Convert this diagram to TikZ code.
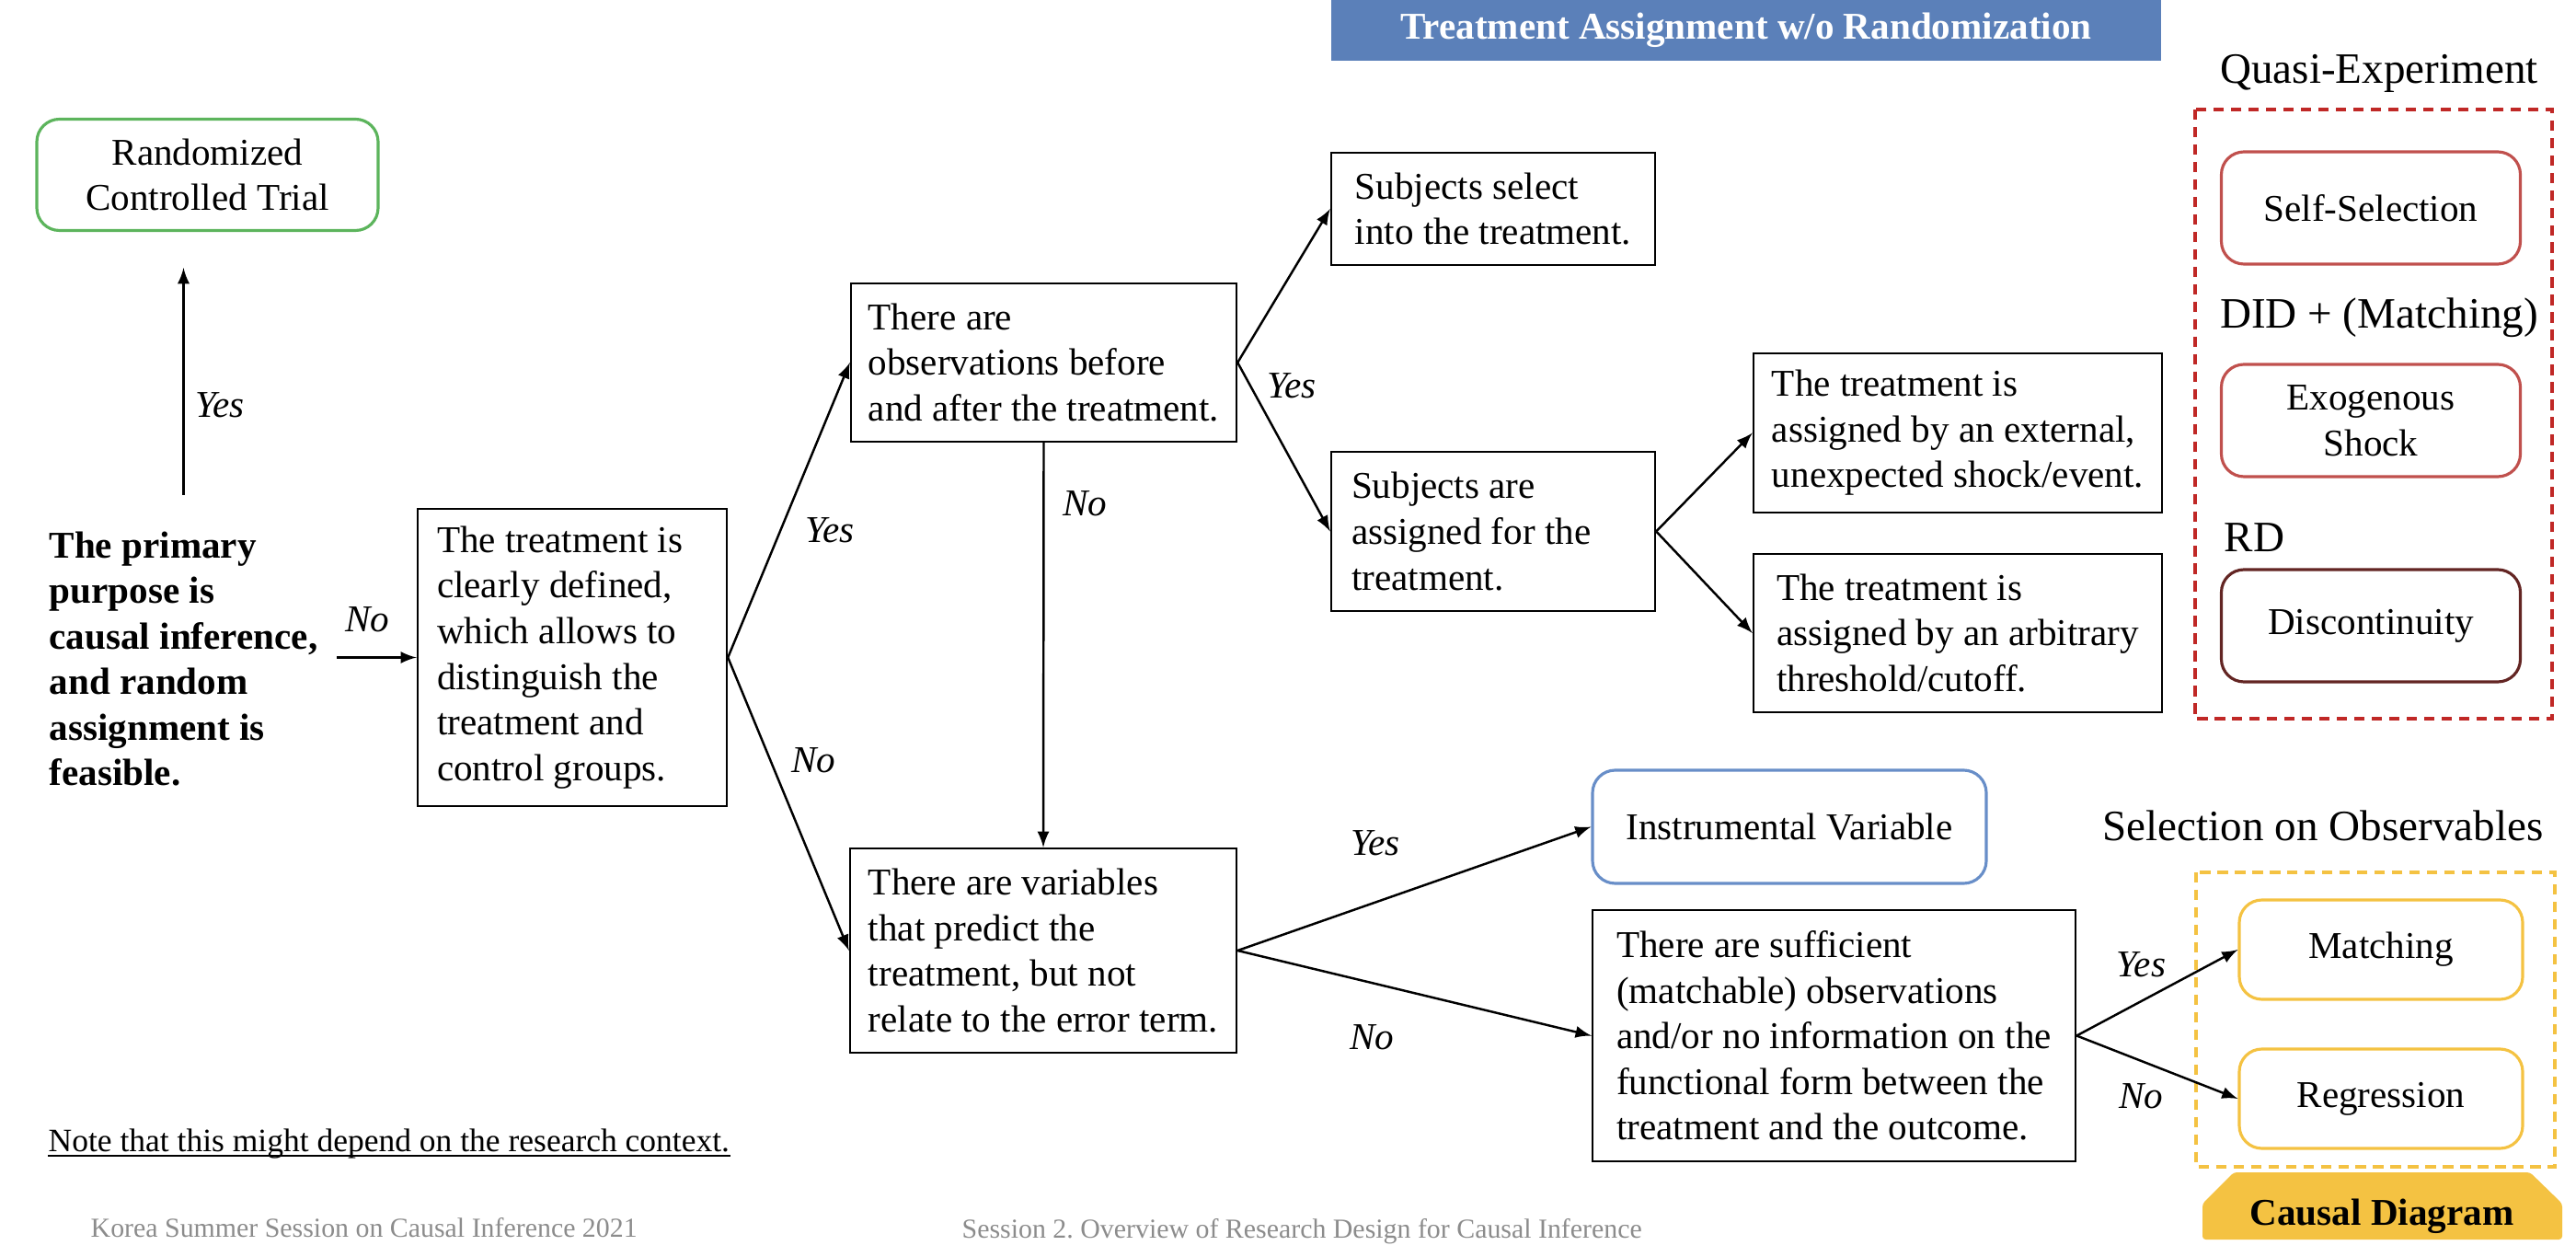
\documentclass[tikz,border=0pt]{standalone}
\usepackage{fontspec}
\setmainfont{Liberation Serif}
\usepackage{tikz}
\usetikzlibrary{arrows}
\newcommand{\bodysize}{\fontsize{11.7}{14.1}\selectfont}
\newcommand{\headsize}{\fontsize{13.4}{16}\selectfont}
\definecolor{hdblue}{RGB}{91,128,185}
\definecolor{ivblue}{RGB}{104,142,200}
\definecolor{rctgreen}{RGB}{92,180,92}
\definecolor{qered}{RGB}{192,40,38}
\definecolor{qebox}{RGB}{192,80,77}
\definecolor{rdbrown}{RGB}{99,37,35}
\definecolor{cdgold}{RGB}{244,194,66}
\definecolor{footgray}{RGB}{140,140,140}
\tikzstyle{box}=[draw, line width=0.7pt, align=flush left, inner sep=0pt]
\tikzstyle{rbox}=[draw, line width=0.9pt, rounded corners=7pt, align=center, inner sep=0pt]
\tikzstyle{edge}=[line width=0.7pt, -latex]
\tikzstyle{edgeLabel}=[font=\bodysize\itshape]
\tikzstyle{heading}=[font=\headsize, inner sep=0pt]
\tikzstyle{dashframe}=[line width=0.9pt, dash pattern=on 3.2pt off 2.2pt]
\tikzstyle{foot}=[font=\fontsize{8.5}{10}\selectfont, text=footgray, anchor=base west, inner sep=0pt]

\begin{document}
\begin{tikzpicture}[font=\bodysize]
	\useasboundingbox (0,0) rectangle (28,-13.66);
	\draw (18.98,-0.33) node[fill=hdblue, text=white, font=\bodysize\bfseries, minimum width=9.02cm, minimum height=0.66cm, inner sep=0pt] (title) {Treatment Assignment w/o Randomization};
	\draw (2.255,-1.9) node[rbox, draw=rctgreen, minimum width=3.71cm, minimum height=1.21cm] (rct) {Randomized\\Controlled Trial};
	\draw (0.53,-7.16) node[anchor=west, align=left, inner sep=0pt, font=\bodysize\bfseries] (purpose) {The primary\\purpose is\\causal inference,\\and random\\assignment is\\feasible.};
	\draw (6.22,-7.145) node[box, inner xsep=0.21cm, text width=2.94cm, minimum height=3.23cm] (defined) {The treatment is\\clearly defined,\\which allows to\\distinguish the\\treatment and\\control groups.};
	\draw (11.345,-3.94) node[box, minimum width=4.19cm, minimum height=1.72cm] (obs) {There are\\observations before\\and after the treatment.};
	\draw (11.34,-10.33) node[box, minimum width=4.2cm, minimum height=2.22cm] (var) {There are variables\\that predict the\\treatment, but not\\relate to the error term.};
	\draw (16.23,-2.27) node[box, minimum width=3.52cm, minimum height=1.22cm] (select) {Subjects select\\into the treatment.};
	\draw (16.23,-5.775) node[box, inner xsep=0.22cm, text width=3.08cm, minimum height=1.73cm] (assigned) {Subjects are\\assigned for the\\treatment.};
	\draw (21.28,-4.705) node[box, minimum width=4.44cm, minimum height=1.73cm] (shock) {The treatment is\\assigned by an external,\\unexpected shock/event.};
	\draw (21.28,-6.88) node[box, minimum width=4.44cm, minimum height=1.72cm] (cutoff) {The treatment is\\assigned by an arbitrary\\threshold/cutoff.};
	\draw (19.45,-8.985) node[rbox, draw=ivblue, minimum width=4.28cm, minimum height=1.23cm] (iv) {Instrumental Variable};
	\draw (19.935,-11.255) node[box, minimum width=5.25cm, minimum height=2.73cm] (suff) {There are sufficient\\(matchable) observations\\and/or no information on the\\functional form between the\\treatment and the outcome.};
	\draw (25.86,-0.80) node[heading] (quasi) {Quasi-Experiment};
	\draw[dashframe, draw=qered] (23.86,-1.19) rectangle (27.74,-7.81);
	\draw (25.77,-2.26) node[rbox, draw=qebox, minimum width=3.25cm, minimum height=1.22cm] (selfsel) {Self-Selection};
	\draw (25.86,-3.45) node[heading] (did) {DID + (Matching)};
	\draw (25.77,-4.57) node[rbox, draw=qebox, minimum width=3.25cm, minimum height=1.22cm] (exo) {Exogenous\\Shock};
	\draw (24.17,-5.84) node[heading, anchor=west] (rd) {RD};
	\draw (25.77,-6.80) node[rbox, draw=rdbrown, minimum width=3.25cm, minimum height=1.22cm] (disc) {Discontinuity};
	\draw (25.25,-8.97) node[heading] (soo) {Selection on Observables};
	\draw[dashframe, draw=cdgold] (23.87,-9.48) rectangle (27.77,-12.68);
	\draw (25.88,-10.32) node[rbox, draw=cdgold, minimum width=3.08cm, minimum height=1.08cm] (matching) {Matching};
	\draw (25.88,-11.94) node[rbox, draw=cdgold, minimum width=3.08cm, minimum height=1.08cm] (regression) {Regression};
	\fill[cdgold, rounded corners=1pt] (23.94,-13.47) -- (23.94,-13.08) -- (24.28,-12.74) -- (27.50,-12.74) -- (27.85,-13.08) -- (27.85,-13.47) -- cycle;
	\draw (25.89,-13.22) node[font=\bodysize\bfseries] (causal) {Causal Diagram};
	\draw (0.52,-12.51) node[anchor=base west, inner sep=0pt, font=\fontsize{10.1}{12}\selectfont] (note) {Note that this might depend on the research context.};
	\draw[line width=0.6pt] ([yshift=-0.5mm]note.base west) -- ([yshift=-0.5mm]note.base east);
	\draw (0.98,-13.44) node[foot] (foot1) {Korea Summer Session on Causal Inference 2021};
	\draw (10.45,-13.45) node[foot] (foot2) {Session 2.\ Overview of Research Design for Causal Inference};
	\draw[edge, shorten <=3.9mm, shorten >=3.9mm] (purpose.north) -- (purpose.north |- rct.south) node[edgeLabel, pos=0.42, right] {Yes};
	\draw[edge, shorten <=2mm] (purpose.east |- defined.west) -- (defined.west) node[edgeLabel, midway, above=1.5mm] {No};
	\draw[edge] (defined.east) -- (obs.west) node[edgeLabel, pos=0.43, right=1.4mm] {Yes};
	\draw[edge] (defined.east) -- (var.west) node[edgeLabel, pos=0.35, right=1mm] {No};
	\draw[edge] (obs.south) -- (var.north) node[edgeLabel, pos=0.15, right=0.8mm] {No};
	\draw[edge] (obs.east) -- (select.west);
	\draw[edge] (obs.east) -- (assigned.west) node[edgeLabel, pos=0.14, right=0.5mm] {Yes};
	\draw[edge] (assigned.east) -- (shock.west);
	\draw[edge] (assigned.east) -- (cutoff.west);
	\draw[edge] (var.east) -- (iv.west) node[edgeLabel, pos=0.39, above=3.8mm] {Yes};
	\draw[edge] (var.east) -- (suff.west) node[edgeLabel, pos=0.38, below=3.2mm] {No};
	\draw[edge] (suff.east) -- (matching.west) node[edgeLabel, pos=0.4, above=1.3mm] {Yes};
	\draw[edge] (suff.east) -- (regression.west) node[edgeLabel, pos=0.4, below=1.2mm] {No};
\end{tikzpicture}
\end{document}
